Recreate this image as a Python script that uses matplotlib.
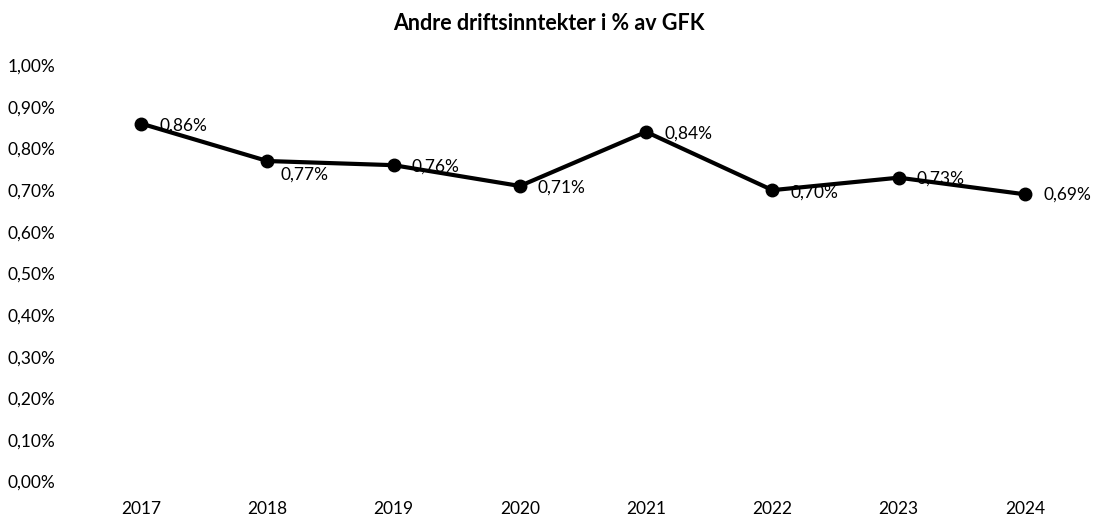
import matplotlib.pyplot as plt
from matplotlib.ticker import FuncFormatter

# Données
years = ["2017", "2018", "2019", "2020", "2021", "2022", "2023", "2024"]
values = [0.86, 0.77, 0.76, 0.71, 0.84, 0.70, 0.73, 0.69]
# décalage des étiquettes (points) : (dx, dy)
label_offsets = [(13, -1.5), (9.5, -10), (13, -1), (13, -1.5), (13, -1.5), (13, -1.5), (13, -1), (13, -0.5)]

plt.rcParams['font.family'] = ['Lato', 'DejaVu Sans']

fig = plt.figure(figsize=(10.98, 5.17), dpi=100)
ax = fig.add_axes([0.071, 0.0687, 0.92, 0.805])

x = list(range(len(years)))
ax.plot(x, values, color='black', linewidth=3, marker='o', markersize=9,
        solid_capstyle='round', zorder=3)

for xi, v, (dx, dy) in zip(x, values, label_offsets):
    ax.annotate(f"{v:.2f}%".replace('.', ','), (xi, v), xytext=(dx, dy),
                textcoords='offset points', ha='left', va='center', fontsize=12.5)

ax.set_xlim(-0.5, len(years) - 0.5)
ax.set_ylim(0, 1.0)
ax.set_yticks([i / 10 for i in range(11)])
ax.yaxis.set_major_formatter(FuncFormatter(lambda v, p: f"{v:.2f}%".replace('.', ',')))
ax.set_xticks(x)
ax.set_xticklabels(years)
ax.tick_params(axis='both', length=0, labelsize=12.5)
ax.tick_params(axis='y', pad=16)
ax.tick_params(axis='x', pad=14)
for s in ax.spines.values():
    s.set_visible(False)

fig.suptitle("Andre driftsinntekter i % av GFK", fontsize=15.5, fontweight='bold', y=0.975)

fig.savefig("out.png", dpi=100)
